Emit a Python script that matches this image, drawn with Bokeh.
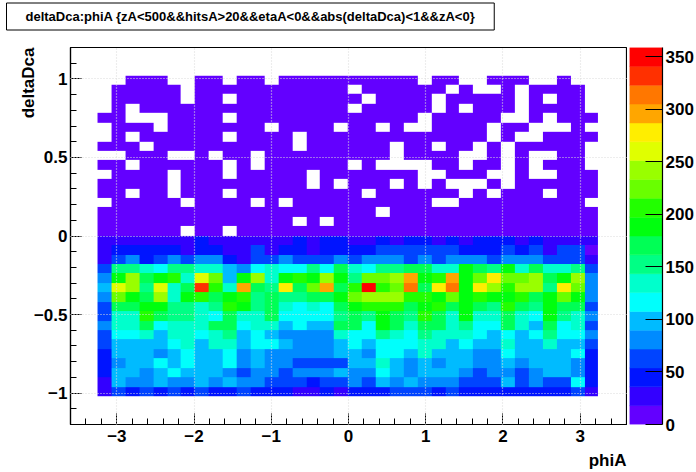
import numpy as np
from bokeh.embed import file_html
from bokeh.resources import INLINE
from bokeh.plotting import figure
from bokeh.layouts import row
from bokeh.models import LinearColorMapper, FixedTicker, Title

FONT = "Liberation Sans"
title_text = "deltaDca:phiA {zA<500&&hitsA>20&&etaA<0&&abs(deltaDca)<1&&zA<0}"
x_title = "phiA"
y_title = "deltaDca"

phi_first = -3.25
phi_bin = 0.18
dca_first = -1.02
dca_bin = 0.06
z_max = 359
x_ticks = [-3, -2, -1, 0, 1, 2, 3]
y_ticks = [-1, -0.5, 0, 0.5, 1]
z_ticks = [0, 50, 100, 150, 200, 250, 300, 350]

# counts per phi bin, from the top dca row downwards
r00 = [0,0,3,3,3,0,0,3,3,0,3,3,0,3,3,3,3,3,3,3,3,3,3,0,3,3,0,0,3,3,3,0,0,3,0,0]
r01 = [0,3,3,3,3,3,0,3,3,3,3,3,3,3,3,3,3,3,0,3,3,3,3,3,3,0,3,0,0,3,0,3,3,3,3,0]
r02 = [0,3,3,3,3,3,0,3,3,0,3,3,3,3,3,3,3,3,3,0,3,3,3,3,0,3,3,3,3,3,0,3,0,3,3,0]
r03 = [0,3,0,3,3,3,3,3,3,3,3,3,3,3,3,3,3,3,0,3,3,3,3,3,0,3,0,3,3,3,0,3,3,3,3,0]
r04 = [3,3,0,0,0,3,3,3,3,0,3,3,3,3,3,3,3,3,3,3,3,3,3,0,3,3,3,3,3,0,0,3,0,3,3,3]
r05 = [0,3,3,3,0,3,3,3,3,3,3,3,0,3,3,3,3,0,3,3,0,3,0,0,3,3,3,3,0,3,3,0,0,0,3,0]
r06 = [0,3,0,3,3,3,3,3,3,0,3,3,3,3,0,3,3,3,3,3,3,3,3,3,3,3,3,3,0,3,0,0,3,3,3,3]
r07 = [3,3,3,0,3,3,3,3,3,3,3,3,3,3,0,3,3,3,3,3,3,0,3,3,0,3,3,0,3,0,3,3,3,3,3,0]
r08 = [0,0,3,3,3,0,0,3,0,3,3,0,3,3,3,3,3,3,3,3,3,0,3,3,3,3,0,0,3,0,3,0,0,3,3,0]
r09 = [3,3,0,3,3,3,3,3,3,0,3,0,3,3,3,3,3,3,0,3,0,0,0,0,3,3,0,3,3,0,3,0,3,3,3,0]
r10 = [0,3,3,3,3,0,3,3,3,0,3,3,3,3,3,0,3,3,3,3,3,3,3,0,0,3,3,3,0,0,3,0,0,3,3,3]
r11 = [3,3,3,3,3,0,3,3,3,3,3,3,3,3,3,0,3,0,3,3,3,0,3,0,3,0,0,0,3,0,3,3,3,3,3,3]
r12 = [3,3,0,3,3,0,3,3,3,0,3,3,3,3,3,3,3,3,3,0,3,3,3,3,3,3,0,3,0,3,3,3,0,3,3,3]
r13 = [0,3,3,3,3,3,0,3,3,3,3,0,3,0,3,3,3,3,3,3,3,3,3,3,0,0,3,3,3,3,3,3,3,3,3,0]
r14 = [3,3,3,3,3,3,3,3,3,3,3,3,3,3,3,3,3,3,3,3,0,3,3,3,3,3,3,3,3,3,3,3,3,3,3,3]
r15 = [3,3,3,3,3,3,3,3,3,3,3,3,3,3,0,3,0,3,3,3,3,3,3,3,3,3,3,3,3,3,3,3,3,3,3,3]
r16 = [3,3,3,3,3,3,0,3,3,0,3,3,3,3,3,3,3,3,3,3,3,3,3,3,3,3,3,3,3,3,3,3,3,3,3,3]
r17 = [27,27,27,27,27,27,27,45,27,27,27,27,27,27,45,27,45,45,27,27,45,27,45,45,27,45,27,45,45,45,27,45,27,27,27,27]
r18 = [27,45,45,45,45,45,27,45,45,27,27,63,27,45,45,27,45,45,45,45,63,63,63,63,63,63,45,45,45,63,45,63,27,63,63,9]
r19 = [27,63,81,45,63,81,63,81,81,45,27,63,63,81,63,63,63,81,63,81,81,81,63,81,63,81,81,81,63,81,81,81,63,63,63,27]
r20 = [63,153,153,135,117,153,153,135,135,99,81,117,135,117,117,153,117,171,135,117,153,153,171,171,135,135,188,171,153,188,135,171,135,135,153,63]
r21 = [81,188,242,171,188,206,135,260,224,99,188,242,135,188,206,188,242,188,153,224,224,242,296,188,206,296,188,224,278,224,224,242,171,188,242,81]
r22 = [99,260,242,153,260,135,171,332,206,135,296,171,153,278,171,224,296,171,206,350,206,224,314,171,278,314,188,278,242,206,242,242,153,278,224,81]
r23 = [81,224,188,171,242,135,188,206,171,188,206,153,171,153,153,171,171,188,224,242,242,242,206,206,188,224,188,206,188,188,206,171,188,224,188,81]
r24 = [63,171,171,188,188,153,153,135,153,206,188,153,171,135,117,135,117,171,188,206,206,206,171,188,206,171,188,171,153,206,171,153,188,171,171,63]
r25 = [63,135,135,206,171,153,153,135,117,171,135,135,171,117,117,117,117,153,171,153,188,171,153,206,171,135,188,135,135,171,135,117,188,153,135,81]
r26 = [81,135,135,171,117,135,135,135,171,171,117,135,135,99,117,99,99,171,171,117,188,171,135,171,171,135,153,117,117,171,135,99,171,117,135,63]
r27 = [63,117,117,135,99,135,135,117,135,153,99,117,99,81,81,81,81,135,117,117,153,135,117,153,135,135,135,117,99,117,99,117,153,117,117,81]
r28 = [63,99,99,99,99,117,135,99,135,135,99,117,117,99,81,81,81,99,117,99,117,117,117,135,135,99,117,99,99,135,99,99,135,99,99,63]
r29 = [45,99,99,99,81,99,117,99,99,117,81,99,81,81,81,81,81,99,99,81,117,117,99,135,99,99,99,81,81,117,99,99,99,99,117,45]
r30 = [45,81,99,99,117,99,117,99,99,117,81,99,81,81,63,63,63,63,99,99,135,99,81,99,81,99,99,81,81,99,81,99,99,99,81,45]
r31 = [45,99,99,81,99,117,99,99,99,81,63,81,81,63,81,81,81,99,81,81,117,99,81,99,99,99,81,63,81,81,63,81,99,99,81,45]
r32 = [27,99,81,81,99,81,81,99,81,99,81,81,63,63,63,45,63,63,81,63,99,81,99,81,81,81,63,63,63,99,63,81,63,63,117,45]
r33 = [27,63,45,63,45,63,45,63,45,45,63,45,45,45,27,27,45,27,45,45,45,63,63,63,45,63,45,45,45,45,45,45,45,45,63,27]

rows_top_down = [r00,r01,r02,r03,r04,r05,r06,r07,r08,r09,r10,r11,r12,r13,r14,r15,r16,
                 r17,r18,r19,r20,r21,r22,r23,r24,r25,r26,r27,r28,r29,r30,r31,r32,r33]

palette = ["#6300ff","#3300ff","#0014ff","#0044ff","#008bff","#00bbff","#00fffc","#00ffcc","#00ff85","#00ff55",
           "#00ff0e","#22ff00","#69ff00","#99ff00","#e0ff00","#ffee00","#ffa600","#ff7700","#ff3000","#ff0000"]

counts = np.array(rows_top_down[::-1], dtype=float)
counts[counts == 0] = np.nan
nx, ny = counts.shape[1], counts.shape[0]
mapper = LinearColorMapper(palette=palette, low=0, high=z_max, nan_color="rgba(0,0,0,0)")

p = figure(width=627, height=483, x_range=(-3.6, 3.6), y_range=(-1.2, 1.2),
           output_backend="svg", toolbar_location=None,
           min_border_left=70, min_border_right=1, min_border_top=60, min_border_bottom=46)
p.frame_width = 556
p.frame_height = 377
p.image(image=[counts], x=phi_first, y=dca_first, dw=nx * phi_bin, dh=ny * dca_bin, color_mapper=mapper)

p.outline_line_color = "black"
p.outline_line_width = 1.2
for g, ticks in ((p.xgrid, x_ticks), (p.ygrid, y_ticks)):
    g.ticker = FixedTicker(ticks=ticks)
    g.grid_line_color = "#dcdcdc"
    g.grid_line_dash = "1 2"
    g.grid_line_width = 1.2
    g.level = "overlay"

minor_x = [round(-3.6 + 0.2 * i, 2) for i in range(37)]
minor_y = [round(-1.2 + 0.1 * i, 2) for i in range(25)]
p.xaxis.ticker = FixedTicker(ticks=x_ticks, minor_ticks=minor_x)
p.yaxis.ticker = FixedTicker(ticks=y_ticks, minor_ticks=minor_y)
for ax, standoff in ((p.xaxis[0], 5), (p.yaxis[0], 3)):
    ax.axis_line_color = "black"
    ax.axis_line_width = 1.2
    ax.major_tick_in = 11
    ax.major_tick_out = 0
    ax.minor_tick_in = 6
    ax.minor_tick_out = 0
    ax.major_tick_line_color = "black"
    ax.minor_tick_line_color = "black"
    ax.major_label_text_font = FONT
    ax.major_label_text_font_style = "bold"
    ax.major_label_text_font_size = "17px"
    ax.major_label_text_color = "black"
    ax.major_label_standoff = standoff
p.yaxis[0].major_label_orientation = "horizontal"

# axis titles, flush with the frame's far ends
p.add_layout(Title(text=x_title, align="right", standoff=9, text_font=FONT, text_font_style="bold",
                   text_font_size="17px", text_color="black"), "below")
p.add_layout(Title(text=y_title, align="right", standoff=-14, text_font=FONT, text_font_style="bold",
                   text_font_size="17px", text_color="black"), "left")

# statistics-style title box above the frame
p.title = Title(text=title_text, align="left", offset=-64, standoff=31, vertical_align="top",
                text_font=FONT, text_font_style="bold", text_font_size="13px", text_color="black",
                background_fill_color="white", border_line_color="black", border_line_width=1,
                padding=[19, 6])

# colour scale
bar = figure(width=69, height=483, x_range=(0, 1), y_range=(0, z_max), output_backend="svg",
             toolbar_location=None, x_axis_location=None, y_axis_location="right",
             min_border_left=2, min_border_right=34, min_border_top=60, min_border_bottom=46)
bar.frame_width = 33
bar.frame_height = 377
edges = np.linspace(0, z_max, len(palette) + 1)
bar.quad(left=0, right=1, bottom=edges[:-1], top=edges[1:], fill_color=palette, line_color=palette, line_width=0.5)
bar.outline_line_color = None
bar.grid.visible = False
zax = bar.yaxis[0]
zax.ticker = FixedTicker(ticks=z_ticks)
zax.axis_line_color = "black"
zax.axis_line_width = 1.2
zax.major_tick_in = 17
zax.major_tick_out = 0
zax.minor_tick_line_color = None
zax.major_tick_line_color = "black"
zax.major_label_text_font = FONT
zax.major_label_text_font_style = "bold"
zax.major_label_text_font_size = "17px"
zax.major_label_text_color = "black"
zax.major_label_standoff = 3
zax.major_label_orientation = "horizontal"

layout = row(p, bar, spacing=0, margin=(-13, 0, 0, 0))
open("out.html", "w").write(file_html(layout, INLINE))
